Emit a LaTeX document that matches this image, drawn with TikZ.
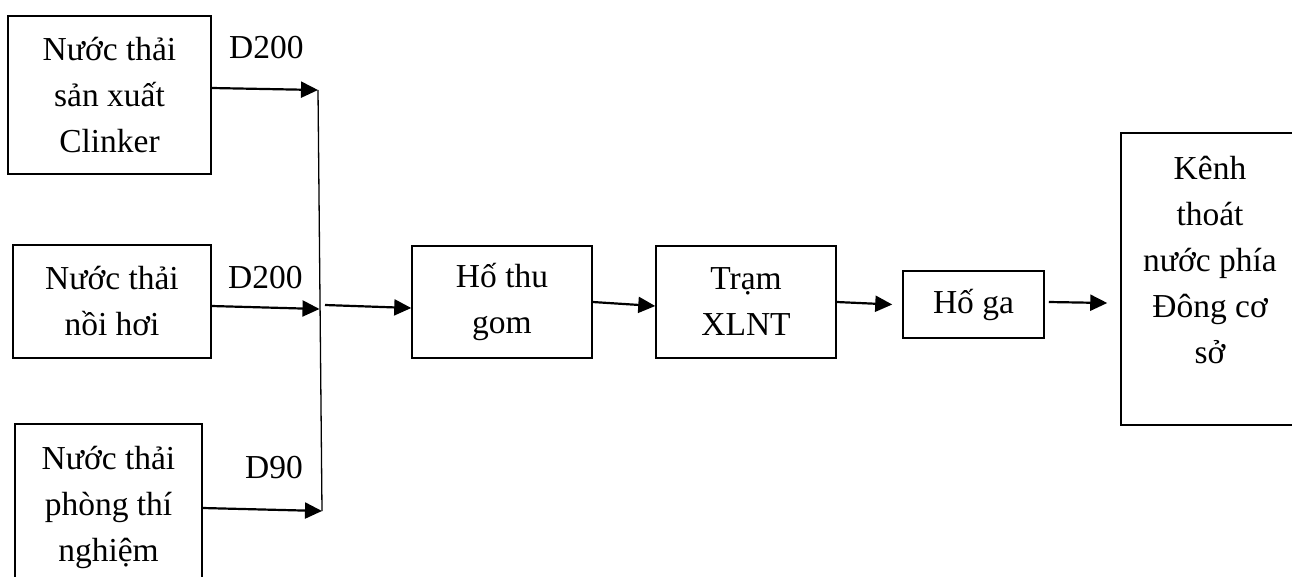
\documentclass[tikz,border=0pt]{standalone}
\usepackage{fontspec}
\setmainfont{Liberation Serif}
\usetikzlibrary{arrows.meta}
\begin{document}
\begin{tikzpicture}[x=1pt,y=-1pt,
  box/.style={draw, line width=1.5pt, align=center, inner sep=0pt,
              font=\fontsize{33.5}{46}\selectfont},
  txt/.style={inner sep=0pt, align=center, font=\fontsize{33.5}{46}\selectfont},
  flow/.style={line width=2.2pt, -{Triangle[length=17pt,width=16pt]}},
  bus/.style={line width=1.3pt}]
\useasboundingbox (0,0) rectangle (1292,576);
\clip (0,0) rectangle (1292,576);

% sources
\node[box, minimum width=203pt, minimum height=158pt] (src1) at (109.5,95)
  {Nước thải\\sản xuất\\Clinker};
\node[box, minimum width=198pt, minimum height=113pt] (src2) at (112,301.5)
  {Nước thải\\nồi hơi};
\node[box, minimum width=187pt, minimum height=166pt] (src3) at (108.5,507)
  {Nước thải\\phòng thí\\nghiệm};

% pipe sizes
\node[txt, anchor=base west] (d1) at (229,58) {D200};
\node[txt, anchor=base west] (d2) at (228,288) {D200};
\node[txt, anchor=base west] (d3) at (245,478) {D90};

% treatment chain
\node[box, minimum width=180pt, minimum height=112pt] (gom) at (502,302) {Hố thu\\gom};
\node[box, minimum width=180pt, minimum height=112pt] (tram) at (746,302) {Trạm\\XLNT};
\node[box, minimum width=141pt, minimum height=67pt] (hoga) at (973.5,304.5) {Hố ga};
\node[box, minimum width=178pt, minimum height=292pt] (kenh) at (1210,279) {};
\node[txt] (kenhtxt) at (1210,260) {Kênh\\thoát\\nước phía\\Đông cơ\\sở};

% collector pipe
\coordinate (jtop) at (318,90);
\coordinate (jmid) at (319.5,309);
\coordinate (jbot) at (322,511);
\coordinate (jout) at (325,305);
\draw[bus] (jtop) -- (jbot);

% flows
\draw[flow] ([yshift=7pt]src1.east) -- (jtop);
\draw[flow] ([yshift=-4.5pt]src2.east) -- (jmid);
\draw[flow] ([yshift=-1pt]src3.east) -- (jbot);
\draw[flow] (jout) -- ([yshift=-6pt]gom.west);
\draw[flow] (gom.east) -- ([yshift=-4pt]tram.west);
\draw[flow] (tram.east) -- ([xshift=-10pt]hoga.west);
\draw[flow] ([xshift=4pt,yshift=2.5pt]hoga.east) -- ([xshift=-13pt,yshift=-24pt]kenh.west);
\end{tikzpicture}
\end{document}
